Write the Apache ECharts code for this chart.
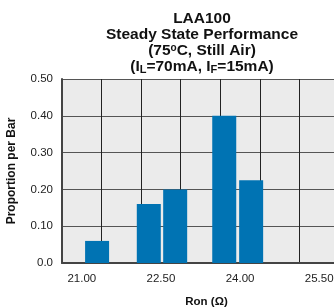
<!DOCTYPE html>
<html>
<head>
<meta charset="utf-8">
<script src="https://cdn.jsdelivr.net/npm/echarts@6/dist/echarts.min.js"></script>
<style>
  html, body { margin: 0; padding: 0; background: #fff; }
  #chart { width: 334px; height: 307px; }
</style>
</head>
<body>
<div id="chart"></div>
<script>
// histogram bars: bin centre (Ron, ohm) and proportion
const binCenters = [21.29, 22.27, 22.77, 23.70, 24.21]
const proportions = [0.06, 0.16, 0.20, 0.40, 0.225]
const xLabelValues = [21.00, 22.50, 24.00, 25.50]
const yTicks = [0, 0.1, 0.2, 0.3, 0.4, 0.5]

const font = 'Liberation Sans, Arial, sans-serif'

const chart = echarts.init(document.getElementById('chart'))

const option = {
   animation: false,
   title: {
      text: [
         '{t|LAA100}',
         '{t|Steady State Performance}',
         '{t|(75}{sup|o}{t|C, Still Air)}',
         '{t|(I}{sub|L}{t|=70mA, I}{sub|F}{t|=15mA)}'
      ].join('\n'),
      left: 197,
      textAlign: 'center',
      top: 6,
      textStyle: {
         fontFamily: font,
         rich: {
            t: { fontSize: 15.5, fontWeight: 'bold', color: '#111', lineHeight: 16, fontFamily: font },
            sup: { fontSize: 10, fontWeight: 'bold', color: '#111', verticalAlign: 'top', lineHeight: 16, padding: [0, 0, 8, 0], fontFamily: font },
            sub: { fontSize: 11, fontWeight: 'bold', color: '#111', verticalAlign: 'bottom', lineHeight: 16, padding: [6, 0, 0, 0], fontFamily: font }
         }
      }
   },
   grid: {
      left: 62,
      right: -5,
      top: 79,
      bottom: 44,
      outerBoundsMode: 'none',
      containLabel: false,
      show: true,
      backgroundColor: '#ebebeb',
      borderWidth: 0
   },
   xAxis: {
      type: 'value',
      min: 20.625,
      max: 25.875,
      interval: 0.75,
      name: 'Ron (\u03A9)',
      nameLocation: 'middle',
      nameGap: 33,
      nameTextStyle: { fontFamily: font, fontWeight: 'bold', fontSize: 11.5, color: '#111', padding: [0, 0, 0, 12] },
      axisLine: { show: true, lineStyle: { color: '#444', width: 2 } },
      axisTick: { show: false },
      axisLabel: {
         customValues: xLabelValues,
         formatter: v => v.toFixed(2),
         fontFamily: font,
         fontSize: 11.5,
         color: '#222',
         margin: 10
      },
      splitLine: { show: true, lineStyle: { color: '#222', width: 1 } }
   },
   yAxis: {
      type: 'value',
      min: 0,
      max: 0.5,
      interval: 0.1,
      name: 'Proportion per Bar',
      nameLocation: 'middle',
      nameGap: 44,
      nameTextStyle: { fontFamily: font, fontWeight: 'bold', fontSize: 12, color: '#111' },
      axisLine: { show: true, lineStyle: { color: '#444', width: 2 } },
      axisTick: { show: false },
      axisLabel: {
         customValues: yTicks,
         formatter: v => (v === 0 ? '0.0' : v.toFixed(2)),
         fontFamily: font,
         fontSize: 11.5,
         color: '#222',
         margin: 9
      },
      splitLine: { show: true, lineStyle: { color: '#555', width: 1.2 } }
   },
   series: [{
      type: 'bar',
      data: binCenters.map((c, i) => [c, proportions[i]]),
      barWidth: 24,
      itemStyle: { color: '#0073b3' },
      z: 3
   }]
}

chart.setOption(option)
</script>
</body>
</html>
